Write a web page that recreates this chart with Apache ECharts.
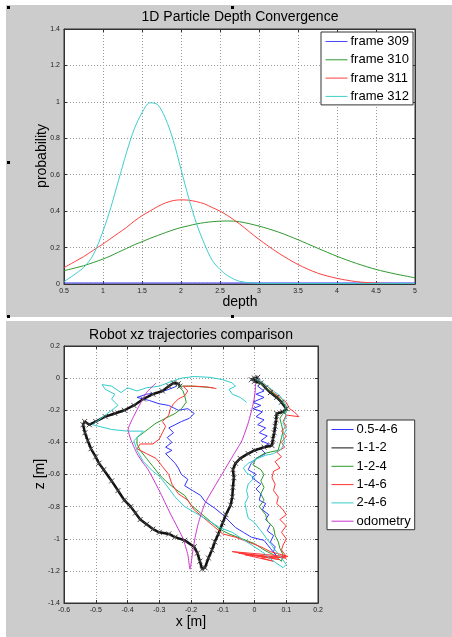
<!DOCTYPE html>
<html>
<head>
<meta charset="utf-8">
<script src="https://cdn.jsdelivr.net/npm/echarts@6.0.0/dist/echarts.min.js"></script>
<style>
  body { margin: 0; background: #fff; }
  .panel { position: absolute; background: #cccccc; }
  .handle { position: absolute; width: 3px; height: 3px; background: #000; }
  #chart { position: absolute; left: 0; top: 0; width: 452px; height: 637px; }
</style>
</head>
<body>
<div class="panel" style="left:6px;top:5px;width:446px;height:312px"></div>
<div class="panel" style="left:6px;top:321px;width:446px;height:316px"></div>
<div class="handle" style="left:7px;top:6px"></div>
<div class="handle" style="left:231px;top:6px"></div>
<div class="handle" style="left:7px;top:161px"></div>
<div class="handle" style="left:7px;top:315px"></div>
<div class="handle" style="left:231px;top:315px"></div>
<div id="chart"></div>
<script>
// top chart: particle depth probability
var depth = [0.5, 0.75, 0.875, 1.0, 1.1, 1.2, 1.3, 1.4, 1.5, 1.6, 1.7, 1.8, 1.9, 2.0, 2.1, 2.2, 2.3, 2.4, 2.5, 2.6, 2.75, 3.0, 3.25, 3.5, 3.75, 4.0, 4.25, 4.5, 4.75, 5.0]
var frame309 = [0.006, 0.006, 0.006, 0.006, 0.006, 0.006, 0.006, 0.006, 0.006, 0.006, 0.006, 0.006, 0.006, 0.006, 0.006, 0.006, 0.006, 0.006, 0.006, 0.006, 0.006, 0.006, 0.006, 0.006, 0.006, 0.006, 0.006, 0.006, 0.006, 0.006]
var frame310 = [0.073, 0.10, 0.118, 0.137, 0.155, 0.175, 0.195, 0.215, 0.232, 0.25, 0.266, 0.282, 0.297, 0.31, 0.32, 0.33, 0.337, 0.342, 0.345, 0.346, 0.342, 0.318, 0.285, 0.243, 0.197, 0.152, 0.113, 0.08, 0.055, 0.034]
var frame311 = [0.09, 0.15, 0.185, 0.22, 0.25, 0.28, 0.31, 0.345, 0.375, 0.40, 0.425, 0.445, 0.458, 0.462, 0.46, 0.452, 0.44, 0.42, 0.40, 0.375, 0.33, 0.245, 0.17, 0.107, 0.06, 0.031, 0.013, 0.005, 0.003, 0.002]
var frame312 = [0.013, 0.09, 0.16, 0.29, 0.42, 0.57, 0.72, 0.85, 0.94, 0.995, 0.985, 0.91, 0.79, 0.63, 0.47, 0.33, 0.22, 0.13, 0.08, 0.045, 0.015, 0.004, 0.003, 0.003, 0.003, 0.003, 0.003, 0.003, 0.003, 0.003]

// bottom chart: robot xz trajectories [x, z]
var traj0546 = [[0.0,0.0],[0.015,-0.01],[0.0,-0.02],[0.02,-0.03],[0.01,-0.05],[0.03,-0.08],[0.005,-0.1],[0.03,-0.12],[-0.005,-0.15],[0.02,-0.17],[-0.005,-0.19],[0.025,-0.21],[0.005,-0.24],[0.03,-0.26],[0.01,-0.29],[0.035,-0.31],[0.015,-0.34],[0.04,-0.36],[0.02,-0.39],[0.045,-0.41],[0.02,-0.44],[0.035,-0.47],[0.005,-0.5],[-0.01,-0.53],[-0.02,-0.57],[0.005,-0.6],[-0.008,-0.62],[0.02,-0.66],[0.005,-0.69],[0.02,-0.72],[0.015,-0.76],[0.035,-0.78],[0.025,-0.82],[0.045,-0.85],[0.035,-0.88],[0.05,-0.91],[0.04,-0.95],[0.06,-0.98],[0.05,-1.02],[0.065,-1.05],[0.06,-1.08],[0.07,-1.11],
  [0.05,-1.06],[0.03,-1.01],[-0.01,-0.99],[-0.035,-0.96],[-0.06,-0.93],[-0.08,-0.89],[-0.1,-0.85],[-0.125,-0.81],[-0.155,-0.77],[-0.17,-0.73],[-0.195,-0.7],[-0.22,-0.67],[-0.21,-0.63],[-0.23,-0.6],[-0.24,-0.56],[-0.25,-0.53],[-0.265,-0.5],[-0.28,-0.47],[-0.26,-0.45],[-0.28,-0.43],[-0.26,-0.4],[-0.275,-0.37],[-0.255,-0.34],[-0.27,-0.31],[-0.25,-0.29],[-0.23,-0.27],[-0.205,-0.25],[-0.19,-0.22],[-0.21,-0.19],[-0.24,-0.2],[-0.27,-0.17],[-0.3,-0.16],[-0.33,-0.14],[-0.37,-0.12],[-0.34,-0.1],[-0.3,-0.09],[-0.27,-0.07],[-0.245,-0.05]]
var traj112 = [[0.0,0.0],[-0.01,-0.01],[0.01,0.005],[0.0,-0.02],[0.02,-0.03],[0.035,-0.06],[0.05,-0.09],[0.07,-0.12],[0.085,-0.15],[0.1,-0.19],[0.09,-0.21],[0.07,-0.22],[0.068,-0.26],[0.065,-0.3],[0.062,-0.34],[0.058,-0.38],[0.055,-0.42],[0.03,-0.43],[0.0,-0.45],[-0.02,-0.47],[-0.045,-0.5],[-0.06,-0.53],[-0.068,-0.57],[-0.065,-0.62],[-0.068,-0.68],[-0.07,-0.74],[-0.075,-0.79],[-0.09,-0.85],[-0.1,-0.9],[-0.114,-0.97],[-0.125,-1.02],[-0.134,-1.07],[-0.145,-1.12],[-0.156,-1.18],[-0.165,-1.19],[-0.172,-1.14],[-0.18,-1.09],[-0.19,-1.05],[-0.22,-1.01],[-0.25,-0.99],[-0.27,-0.97],[-0.3,-0.96],[-0.32,-0.94],[-0.34,-0.91],[-0.36,-0.88],[-0.375,-0.84],[-0.39,-0.8],[-0.41,-0.76],[-0.43,-0.7],[-0.45,-0.64],[-0.475,-0.57],[-0.49,-0.53],[-0.5,-0.49],[-0.515,-0.44],[-0.525,-0.39],[-0.534,-0.34],[-0.54,-0.29],[-0.535,-0.27],[-0.52,-0.29],[-0.5,-0.27],[-0.47,-0.24],[-0.44,-0.22],[-0.41,-0.2],[-0.38,-0.17],[-0.35,-0.13],[-0.32,-0.1],[-0.29,-0.08],[-0.27,-0.05],[-0.255,-0.03],[-0.24,-0.035],[-0.235,-0.05]]
var traj124 = [[0.0,0.0],[0.01,-0.02],[0.03,-0.05],[0.05,-0.08],[0.07,-0.11],[0.085,-0.14],[0.095,-0.17],[0.105,-0.2],[0.09,-0.22],[0.08,-0.25],[0.085,-0.29],[0.09,-0.33],[0.085,-0.37],[0.08,-0.41],[0.074,-0.45],[0.05,-0.46],[0.03,-0.47],[0.005,-0.5],[-0.005,-0.54],[0.02,-0.57],[0.03,-0.6],[0.02,-0.64],[0.03,-0.68],[0.02,-0.72],[0.03,-0.76],[0.015,-0.8],[0.035,-0.85],[0.04,-0.89],[0.06,-0.93],[0.065,-0.98],[0.075,-1.02],[0.08,-1.06],[0.09,-1.1],[0.085,-1.14],
  [0.06,-1.1],[0.03,-1.07],[0.0,-1.03],[-0.04,-1.0],[-0.08,-0.97],[-0.11,-0.94],[-0.14,-0.89],[-0.17,-0.84],[-0.2,-0.79],[-0.22,-0.73],[-0.25,-0.69],[-0.28,-0.64],[-0.3,-0.6],[-0.32,-0.55],[-0.34,-0.5],[-0.36,-0.45],[-0.37,-0.41],[-0.37,-0.37],[-0.35,-0.34],[-0.33,-0.31],[-0.31,-0.28],[-0.28,-0.25],[-0.25,-0.22],[-0.23,-0.19],[-0.215,-0.15],[-0.22,-0.11],[-0.225,-0.08],[-0.24,-0.05],[-0.2,-0.05],[-0.16,-0.055],[-0.13,-0.06]]
var traj146 = [[0.0,0.0],[0.02,-0.02],[0.04,-0.05],[0.06,-0.09],[0.08,-0.12],[0.1,-0.15],[0.11,-0.19],[0.125,-0.21],[0.14,-0.24],[0.1,-0.23],[0.09,-0.27],[0.1,-0.3],[0.085,-0.33],[0.1,-0.36],[0.085,-0.4],[0.095,-0.43],[0.07,-0.46],[0.085,-0.49],[0.065,-0.52],[0.08,-0.56],[0.06,-0.58],[0.055,-0.62],[0.065,-0.66],[0.06,-0.7],[0.075,-0.74],[0.07,-0.78],[0.09,-0.82],[0.1,-0.85],[0.08,-0.88],[0.1,-0.92],[0.085,-0.96],[0.1,-1.0],[0.09,-1.04],[0.085,-1.07],[0.1,-1.11],
  [-0.07,-1.08],[0.08,-1.13],[-0.05,-1.09],[0.1,-1.12],[-0.03,-1.1],[0.06,-1.14],[0.02,-1.12],[0.105,-1.11],
  [0.05,-1.08],[0.02,-1.05],[-0.02,-1.02],[-0.06,-0.99],[-0.1,-0.97],[-0.13,-0.92],[-0.16,-0.87],[-0.19,-0.82],[-0.21,-0.76],[-0.24,-0.72],[-0.26,-0.66],[-0.27,-0.6],[-0.29,-0.55],[-0.31,-0.5],[-0.34,-0.47],[-0.37,-0.44],[-0.36,-0.41],[-0.32,-0.41],[-0.3,-0.38],[-0.29,-0.34],[-0.28,-0.3],[-0.29,-0.27],[-0.27,-0.23],[-0.265,-0.19],[-0.255,-0.16],[-0.24,-0.13],[-0.22,-0.11],[-0.21,-0.08],[-0.225,-0.05],[-0.19,-0.05],[-0.15,-0.055],[-0.12,-0.065]]
var traj246 = [[0.0,0.0],[0.02,-0.02],[0.04,-0.05],[0.06,-0.08],[0.08,-0.11],[0.09,-0.14],[0.1,-0.17],[0.095,-0.2],[0.1,-0.24],[0.09,-0.28],[0.1,-0.32],[0.09,-0.36],[0.095,-0.4],[0.085,-0.44],[0.06,-0.47],[0.035,-0.48],[0.01,-0.5],[-0.02,-0.53],[-0.035,-0.56],[-0.025,-0.59],[0.0,-0.62],[-0.02,-0.66],[-0.025,-0.7],[-0.02,-0.74],[-0.03,-0.78],[-0.025,-0.83],[-0.02,-0.87],[0.0,-0.9],[0.02,-0.95],[0.035,-0.99],[0.05,-1.03],[0.065,-1.07],[0.085,-1.12],[0.1,-1.16],[0.09,-1.18],
  [0.06,-1.14],[0.03,-1.09],[0.0,-1.05],[-0.04,-1.0],[-0.07,-0.96],[-0.11,-0.93],[-0.15,-0.88],[-0.185,-0.84],[-0.22,-0.8],[-0.25,-0.74],[-0.28,-0.66],[-0.3,-0.61],[-0.32,-0.58],[-0.35,-0.52],[-0.37,-0.45],[-0.38,-0.39],[-0.36,-0.35],[-0.35,-0.33],[-0.4,-0.33],[-0.45,-0.32],[-0.51,-0.29],[-0.49,-0.26],[-0.47,-0.23],[-0.45,-0.2],[-0.43,-0.17],[-0.45,-0.13],[-0.44,-0.1],[-0.47,-0.07],[-0.48,-0.04],[-0.45,-0.05],[-0.42,-0.09],[-0.4,-0.06],[-0.37,-0.08],[-0.34,-0.06],[-0.3,-0.05],[-0.26,-0.02],[-0.23,0.0],[-0.19,0.01],[-0.14,0.005],[-0.1,-0.01],[-0.07,-0.03],[-0.06,-0.05],[-0.08,-0.07],[-0.07,-0.1],[-0.045,-0.12],[-0.025,-0.15]]
var trajOdom = [[0.003,-0.03],[0.003,-0.06],[-0.003,-0.15],[-0.02,-0.28],[-0.04,-0.39],[-0.07,-0.49],[-0.1,-0.59],[-0.13,-0.69],[-0.156,-0.78],[-0.175,-0.89],[-0.187,-0.99],[-0.196,-1.1],[-0.203,-1.19],[-0.21,-1.1],[-0.225,-1.0],[-0.245,-0.92],[-0.266,-0.84],[-0.3,-0.7],[-0.335,-0.57],[-0.35,-0.53],[-0.37,-0.47],[-0.39,-0.38],[-0.398,-0.32],[-0.386,-0.26],[-0.36,-0.16],[-0.34,-0.09],[-0.31,-0.03]]

var FONT = '"Liberation Sans", Arial, sans-serif'

function fmt(v) {
  var s = String(+v.toFixed(2))
  return s === '-0' ? '0' : s
}

function axisBase(gi, min, max, step) {
  return {
    type: 'value',
    gridIndex: gi,
    min: min,
    max: max,
    interval: step,
    axisLine: { show: true, onZero: false, lineStyle: { color: '#333', width: 1 } },
    axisTick: { show: true, inside: true, length: 3, lineStyle: { color: '#333' } },
    axisLabel: { fontSize: 7, color: '#222', fontFamily: FONT, formatter: fmt, margin: 4 },
    splitLine: { show: true, lineStyle: { color: '#999', type: [1, 2], width: 1 } }
  }
}

// mirrored axis on the top / right side: ticks only
function mirrorAxis(gi, min, max, step, pos) {
  var a = axisBase(gi, min, max, step)
  a.position = pos
  a.axisLabel = { show: false }
  a.splitLine = { show: false }
  return a
}

function pairs(xs, ys) {
  var out = []
  for (var i = 0; i < xs.length; i++) out.push([xs[i], ys[i]])
  return out
}

function lineSeries(name, xi, data, color, extra) {
  var s = {
    name: name,
    type: 'line',
    xAxisIndex: xi,
    yAxisIndex: xi,
    data: data,
    symbol: 'none',
    lineStyle: { color: color, width: 1 },
    itemStyle: { color: color },
    emphasis: { disabled: true },
    animation: false
  }
  for (var k in extra) s[k] = extra[k]
  return s
}

var legendBase = {
  orient: 'vertical',
  itemWidth: 22,
  itemHeight: 14,
  itemGap: 5.3,
  padding: [3, 4, 2, 4],
  backgroundColor: '#fff',
  borderColor: '#333',
  borderWidth: 1,
  borderRadius: 0,
  selectedMode: false,
  itemStyle: { opacity: 0 },
  lineStyle: { width: 1 },
  textStyle: { fontSize: 13, color: '#000', fontFamily: FONT, padding: [0, 0, 0, -2] }
}

var blackX = 'path://M0,0L10,10M10,0L0,10'

var option = {
  backgroundColor: 'transparent',
  animation: false,
  grid: [
    { left: 64, top: 29, width: 351, height: 255, show: true, backgroundColor: '#fff', borderColor: '#333', borderWidth: 1 },
    { left: 64, top: 346, width: 254, height: 257, show: true, backgroundColor: '#fff', borderColor: '#333', borderWidth: 1 }
  ],
  xAxis: [
    axisBase(0, 0.5, 5, 0.5),
    axisBase(1, -0.6, 0.2, 0.1),
    mirrorAxis(0, 0.5, 5, 0.5, 'top'),
    mirrorAxis(1, -0.6, 0.2, 0.1, 'top')
  ],
  yAxis: [
    axisBase(0, 0, 1.4, 0.2),
    axisBase(1, -1.4, 0.2, 0.2),
    mirrorAxis(0, 0, 1.4, 0.2, 'right'),
    mirrorAxis(1, -1.4, 0.2, 0.2, 'right')
  ],
  legend: [
    Object.assign({}, legendBase, { left: 321, top: 32, data: ['frame 309', 'frame 310', 'frame 311', 'frame 312'] }),
    Object.assign({}, legendBase, { left: 327, top: 420, data: ['0.5-4-6', '1-1-2', '1-2-4', '1-4-6', '2-4-6', 'odometry'] })
  ],
  series: [
    lineSeries('frame 309', 0, pairs(depth, frame309), '#4a4aff', { smooth: 0.3 }),
    lineSeries('frame 310', 0, pairs(depth, frame310), '#2f992f', { smooth: 0.3 }),
    lineSeries('frame 311', 0, pairs(depth, frame311), '#ff4040', { smooth: 0.3 }),
    lineSeries('frame 312', 0, pairs(depth, frame312), '#40cccc', { smooth: 0.3 }),
    lineSeries('0.5-4-6', 1, traj0546, '#3333ff'),
    lineSeries('1-1-2', 1, traj112, '#111', {
      symbol: blackX, symbolSize: 5, showSymbol: true, showAllSymbol: true,
      lineStyle: { color: '#111', width: 2.5 },
      itemStyle: { color: '#444', borderColor: '#444', borderWidth: 1 }
    }),
    lineSeries('1-2-4', 1, traj124, '#2a9a2a'),
    lineSeries('1-4-6', 1, traj146, '#ff3333'),
    lineSeries('2-4-6', 1, traj246, '#33cccc'),
    lineSeries('odometry', 1, trajOdom, '#cc33cc', { smooth: 0.2 })
  ],
  graphic: [
    { type: 'text', x: 240, y: 17, style: { text: '1D Particle Depth Convergence', font: '14px ' + FONT, fill: '#000', align: 'center', verticalAlign: 'middle' } },
    { type: 'text', x: 240, y: 302, style: { text: 'depth', font: '14px ' + FONT, fill: '#000', align: 'center', verticalAlign: 'middle' } },
    { type: 'text', x: 42, y: 156, rotation: Math.PI / 2, style: { text: 'probability', font: '14px ' + FONT, fill: '#000', align: 'center', verticalAlign: 'middle' } },
    { type: 'text', x: 191, y: 335, style: { text: 'Robot xz trajectories comparison', font: '14px ' + FONT, fill: '#000', align: 'center', verticalAlign: 'middle' } },
    { type: 'text', x: 191, y: 622, style: { text: 'x [m]', font: '14px ' + FONT, fill: '#000', align: 'center', verticalAlign: 'middle' } },
    { type: 'text', x: 40, y: 474, rotation: Math.PI / 2, style: { text: 'z [m]', font: '14px ' + FONT, fill: '#000', align: 'center', verticalAlign: 'middle' } }
  ]
}

var myChart = echarts.init(document.getElementById('chart'), null, { renderer: 'canvas' })
myChart.setOption(option)
</script>
</body>
</html>
